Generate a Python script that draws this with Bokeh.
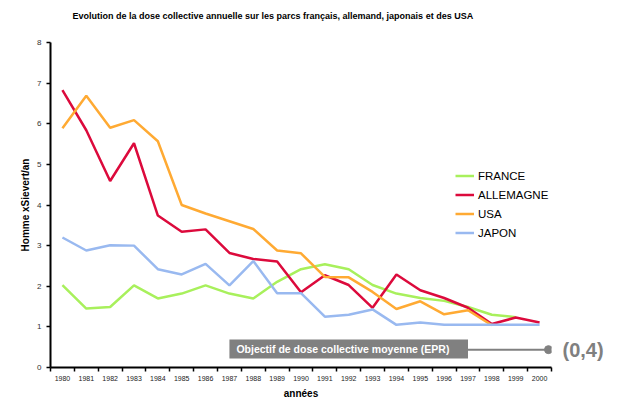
from bokeh.plotting import figure
from bokeh.models import Range1d, FixedTicker, Legend, LegendItem, Label, Title, LinearAxis
from bokeh.embed import file_html
from bokeh.resources import INLINE

nan = float("nan")

# ---- data ----
years = list(range(1980, 2001))
france = [2.03, 1.45, 1.49, 2.02, 1.70, 1.82, 2.02, 1.82, 1.70, 2.11, 2.42,
          2.54, 2.42, 2.03, 1.82, 1.71, 1.64, 1.49, 1.30, 1.24, nan]
allemagne = [6.83, 5.84, 4.59, 5.52, 3.74, 3.34, 3.40, 2.82, 2.67, 2.61, 1.85,
             2.27, 2.03, 1.47, 2.29, 1.90, 1.71, 1.47, 1.07, 1.23, 1.11]
usa = [5.89, 6.69, 5.90, 6.09, 5.57, 4.00, 3.79, 3.60, 3.41, 2.88, 2.81,
       2.23, 2.22, 1.86, 1.44, 1.63, 1.31, 1.41, 1.04, nan, nan]
japon = [3.20, 2.88, 3.01, 3.00, 2.42, 2.29, 2.55, 2.02, 2.62, 1.83, 1.83,
         1.25, 1.30, 1.43, 1.05, 1.11, 1.05, 1.05, 1.05, 1.05, 1.05]
series_names = ["FRANCE", "ALLEMAGNE", "USA", "JAPON"]
series_values = [france, allemagne, usa, japon]
y_ticks = [0, 1, 2, 3, 4, 5, 6, 7, 8]
objective_value = 0.44
objective_text = "Objectif de dose collective moyenne (EPR)"
objective_label = "(0,4)"
title_text = "Evolution de la dose collective annuelle sur les parcs français, allemand, japonais et des USA"
y_title = "Homme xSievert/an"
x_title = "années"

# ---- styles ----
colors = ["#A8F05C", "#DC0A3C", "#FFAA33", "#99B9F0"]
grey = "#808080"
FONT = "Liberation Sans"

W, H = 618, 401
FL, FR, FT, FB = 50, 551, 42, 367
x0, x1 = 1979.5, 2000.5
y0, y1 = 0, 8


def dx(px):
    return x0 + (px - FL) * (x1 - x0) / (FR - FL)


def dy(py):
    return y1 - (py - FT) * (y1 - y0) / (FB - FT)


p = figure(width=W, height=H, x_range=Range1d(x0, x1), y_range=Range1d(y0, y1),
           output_backend="svg", toolbar_location=None, title=None,
           min_border_left=FL, min_border_right=W - FR,
           min_border_top=FT, min_border_bottom=H - FB)
p.outline_line_color = None
p.xgrid.visible = False
p.ygrid.visible = False
p.background_fill_color = "white"
p.border_fill_color = "white"

# x axis
xa = p.xaxis[0]
xa.ticker = FixedTicker(ticks=years, minor_ticks=[y - 0.5 for y in years] + [years[-1] + 0.5])
xa.axis_line_width = 2
xa.axis_line_color = "black"
xa.major_tick_line_color = None
xa.major_tick_out = 0
xa.major_tick_in = 0
xa.minor_tick_line_color = "black"
xa.minor_tick_line_width = 1.5
xa.minor_tick_out = 4
xa.minor_tick_in = 0
xa.major_label_text_font = FONT
xa.major_label_text_font_size = "7px"
xa.major_label_text_color = "#222222"
xa.major_label_standoff = 4
xa.axis_label = x_title
xa.axis_label_text_font = FONT
xa.axis_label_text_font_style = "bold"
xa.axis_label_text_font_size = "10px"
xa.axis_label_text_color = "black"
xa.axis_label_standoff = 4

# y axis
ya = p.yaxis[0]
ya.ticker = FixedTicker(ticks=y_ticks)
ya.axis_line_width = 2
ya.axis_line_color = "black"
ya.major_tick_line_color = "black"
ya.major_tick_line_width = 1.5
ya.major_tick_out = 4
ya.major_tick_in = 0
ya.minor_tick_line_color = None
ya.major_label_text_font = FONT
ya.major_label_text_font_size = "8px"
ya.major_label_text_color = "#333333"
ya.major_label_standoff = 5
ya.axis_label = y_title
ya.axis_label_text_font = FONT
ya.axis_label_text_font_style = "bold"
ya.axis_label_text_font_size = "10px"
ya.axis_label_text_color = "black"
ya.axis_label_standoff = 3

# right axis carrying the objective value label
ra = LinearAxis(ticker=FixedTicker(ticks=[objective_value]),
                major_label_overrides={objective_value: objective_label},
                axis_line_color=None, major_tick_line_color=None,
                minor_tick_line_color=None, major_tick_out=0, major_tick_in=0,
                major_label_standoff=11, major_label_text_font=FONT,
                major_label_text_font_style="bold", major_label_text_font_size="20px",
                major_label_text_color=grey)
p.add_layout(ra, "right")

items = []
for name, vals, col in zip(series_names, series_values, colors):
    r = p.line(years, vals, line_color=col, line_width=2.5)
    items.append(LegendItem(label=name, renderers=[r]))

legend = Legend(items=items, location=(405, 127), orientation="vertical",
                glyph_width=19, glyph_height=15, label_height=15, spacing=4,
                label_standoff=4, padding=0, margin=0,
                border_line_color=None, background_fill_alpha=0,
                label_text_font=FONT, label_text_font_size="11.5px",
                label_text_color="black")
p.add_layout(legend)

# objective annotation
p.quad(left=[1987], right=[1997], bottom=[dy(358)], top=[dy(339)],
       fill_color=grey, line_color=None)
p.line([1997, dx(548)], [objective_value, objective_value], line_color=grey, line_width=2)
p.scatter([dx(548)], [objective_value], size=8, color=grey)
p.add_layout(Label(x=1987, y=dy(348.5), x_offset=7, text=objective_text,
                   text_color="white", text_font=FONT, text_font_style="bold",
                   text_font_size="10.5px", text_baseline="middle", text_align="left"))

# spacer between frame and title, then the title itself
p.add_layout(Title(text=" ", standoff=8, text_font=FONT, text_font_size="9px"), "above")
p.add_layout(Title(text=title_text, align="left", offset=22, vertical_align="top",
                   standoff=0, text_font=FONT, text_font_style="bold",
                   text_font_size="9px", text_color="black"), "above")

open("out.html", "w").write(file_html(p, INLINE))
